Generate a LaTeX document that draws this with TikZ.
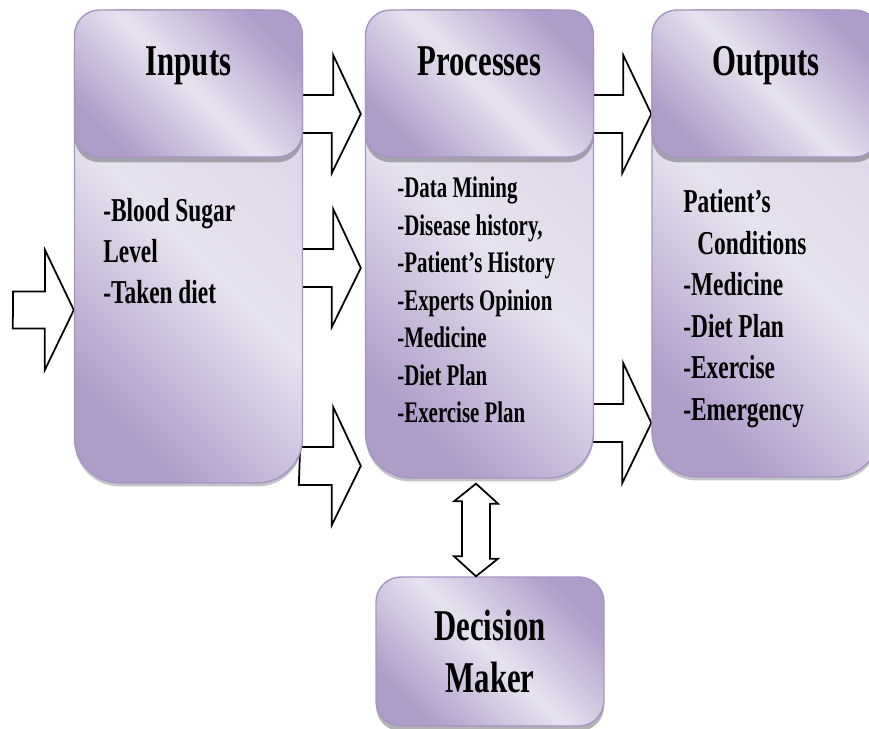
\documentclass[tikz,border=0pt]{standalone}
\usepackage{fontspec}
\setmainfont[FakeStretch=0.7]{Liberation Serif}
\usetikzlibrary{shadows,calc}

\pgfdeclarelayer{background}
\pgfsetlayers{background,main}

\definecolor{lavlight}{RGB}{231,226,239}
\definecolor{lavdark}{RGB}{174,157,201}
\definecolor{lavedge}{RGB}{165,148,196}

\tikzset{
  colbody/.style={rectangle, draw=lavedge, line width=0.8pt,
    rounded corners=0.9cm, minimum width=4.56cm,
    bottom color=lavdark, top color=lavlight!80!lavdark,
    middle color=lavlight, shading angle=-45,
    drop shadow={shadow xshift=0pt, shadow yshift=-2pt, fill=black!45}},
  colhead/.style={rectangle, draw=lavedge, line width=0.8pt,
    rounded corners=0.5cm, minimum width=4.56cm, minimum height=2.94cm,
    top color=lavdark, bottom color=lavdark,
    middle color=lavlight, shading angle=-45,
    drop shadow={shadow xshift=0pt, shadow yshift=-3pt, fill=black!60}},
  coltitle/.style={anchor=base, inner sep=0pt,
    font=\fontsize{25}{30}\selectfont\bfseries},
  colitems/.style={anchor=base west, align=left, inner sep=0pt,
    font=\fontsize{19}{23.6}\selectfont\bfseries},
  blockarr/.style={draw=black, fill=white, line width=1pt, line join=miter}
}

\begin{document}
\begin{tikzpicture}[x=0.02cm, y=-0.02cm]

    \useasboundingbox (0,0) rectangle (869,729);

    % the three columns
    \node[colbody, minimum height=9.46cm] (inp) at (188.5,246.5) {};
    \node[colhead] (inphead) at (188.5,83.5) {};
    \node[coltitle] (inptitle) at (188.5,76) {Inputs};
    \node[colitems] (inplist) at (103,304)
      {-Blood Sugar\\Level\\-Taken diet};

    \node[colbody, minimum height=9.36cm] (proc) at (479.5,244) {};
    \node[colhead] (prochead) at (479.5,83.5) {};
    \node[coltitle] (proctitle) at (479.5,76) {Processes};
    \node[colitems, font=\fontsize{17}{21.4}\selectfont\bfseries] (proclist) at (397,423)
      {-Data Mining\\-Disease history,\\-Patient's History\\-Experts Opinion\\-Medicine\\-Diet Plan\\-Exercise Plan};

    \node[colbody, minimum height=9.34cm] (out) at (766,243.5) {};
    \node[colhead] (outhead) at (766,83.5) {};
    \node[coltitle] (outtitle) at (766,76) {Outputs};
    \node[colitems] (outlist) at (683,420)
      {Patient's\\\hspace*{0.28cm}Conditions\\-Medicine\\-Diet Plan\\-Exercise\\-Emergency};

    % decision maker
    \node[colhead, minimum height=2.98cm, align=center,
      font=\fontsize{25}{29.5}\selectfont\bfseries] (dec) at (490,651.5) {Decision\\Maker};

    \begin{pgfonlayer}{background}
      \coordinate (src) at (13,310);
      \draw[blockarr] (src) ++(0,-18.5) -- ++(32,0) -- ++(0,-41.5)
        -- (inp.west |- src) -- ++(-29,60) -- ++(0,-41.5) -- ++(-32,0) -- cycle;

      \draw[blockarr] ($(inp.east |- 0,95)+(-3,0)$) -- ++(33,0) -- ++(0,-40)
        -- ($(proc.west |- 0,114)+(-4,0)$) -- ++(-29,59) -- ++(0,-40) -- ++(-33,0) -- cycle;
      \draw[blockarr] ($(inp.east |- 0,249)+(-3,0)$) -- ++(33,0) -- ++(0,-40)
        -- ($(proc.west |- 0,268)+(-4,0)$) -- ++(-29,59) -- ++(0,-40) -- ++(-33,0) -- cycle;
      \draw[blockarr] ($(inp.east |- 0,447)+(-3,0)$) -- ++(33,0) -- ++(0,-40)
        -- ($(proc.west |- 0,466)+(-4,0)$) -- ++(-29,59) -- ++(0,-40) -- ++(-33,0) -- cycle;

      \draw[blockarr] ($(proc.east |- 0,95)+(-2,0)$) -- ++(31,0) -- ++(0,-40)
        -- (out.west |- 0,114) -- ++(-29,59) -- ++(0,-40) -- ++(-31,0) -- cycle;
      \draw[blockarr] ($(proc.east |- 0,404)+(-2,0)$) -- ++(31,0) -- ++(0,-41)
        -- (out.west |- 0,423) -- ++(-29,60) -- ++(0,-41) -- ++(-31,0) -- cycle;
    \end{pgfonlayer}

    \draw[blockarr] ($(476,0 |- proc.south)+(0,5)$) -- ++(22,20) -- ++(-8,0) -- ++(0,55)
      -- ++(8,0) -- (476,0 |- dec.north) -- ++(-22,-20) -- ++(8,0) -- ++(0,-55)
      -- ++(-8,0) -- cycle;

\end{tikzpicture}
\end{document}
